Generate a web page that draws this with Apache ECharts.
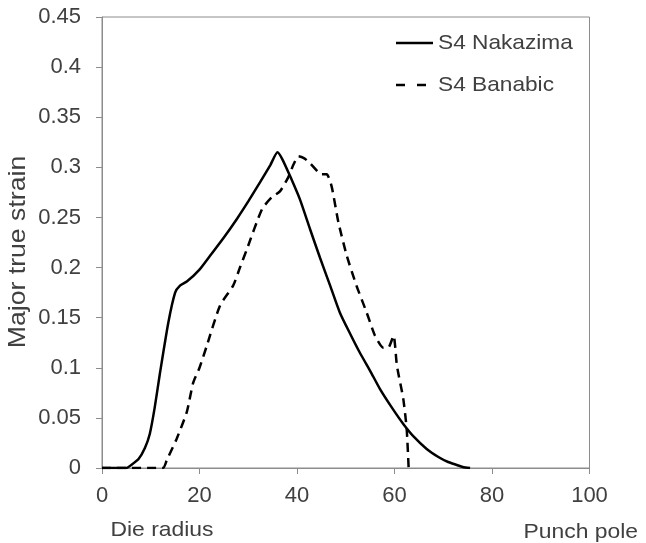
<!DOCTYPE html>
<html><head><meta charset="utf-8">
<script src="https://cdn.jsdelivr.net/npm/echarts@6/dist/echarts.min.js"></script>
<style>html,body{margin:0;padding:0;background:#fff}#c{width:646px;height:543px}</style>
</head><body><div id="c"></div>
<script>
var xTicks = [0, 20, 40, 60, 80, 100];
var nakazimaX = [0, 5, 6, 7.5, 8.8, 9.8, 10.8, 11.9, 13.6, 15, 16, 17.4, 20, 22.2, 25, 27.6, 30, 32.4, 34.5, 36, 37, 38.6, 40.6, 42.7, 44.7, 46.8, 48.8, 50.9, 52.9, 55, 57, 59.5, 61.8, 64, 66.6, 69, 71, 72.8, 74, 75.5];
var nakazimaY = [0, 0, 0.003, 0.009, 0.02, 0.034, 0.06, 0.095, 0.145, 0.175, 0.182, 0.186, 0.198, 0.212, 0.23, 0.248, 0.266, 0.285, 0.302, 0.315, 0.308, 0.291, 0.268, 0.238, 0.21, 0.182, 0.155, 0.134, 0.115, 0.097, 0.079, 0.06, 0.044, 0.031, 0.019, 0.011, 0.006, 0.003, 0.001, 0];
var banabicX = [0, 12.5, 13.3, 15.3, 17.4, 18.7, 20, 21.5, 24.2, 26.9, 28.3, 29.7, 32.8, 34.8, 36.5, 38.2, 39.3, 40.3, 41.5, 42.7, 45.1, 46.1, 47.1, 48.5, 50.2, 52.2, 54.3, 56, 57.7, 58.7, 59.8, 60.5, 61.8, 62.5, 62.9];
var banabicY = [0, 0, 0.008, 0.029, 0.056, 0.085, 0.1, 0.122, 0.162, 0.182, 0.2, 0.218, 0.258, 0.27, 0.276, 0.29, 0.303, 0.311, 0.309, 0.304, 0.293, 0.293, 0.281, 0.245, 0.212, 0.182, 0.155, 0.132, 0.12, 0.12, 0.132, 0.102, 0.069, 0.039, 0];
var seriesNames = ['S4 Nakazima', 'S4 Banabic'];
var axisNames = ['Die radius', 'Punch pole', 'Major true strain'];

function pairs(xs, ys) { return xs.map(function (x, i) { return [x, ys[i]]; }); }

var font = 'Liberation Sans, Arial, sans-serif';
var axisCol = '#8c8c8c';
var txtCol = '#404040';
var chart = echarts.init(document.getElementById('c'), null, { renderer: 'canvas' });
chart.setOption({
  animation: false,
  backgroundColor: '#fff',
  grid: { left: 102, right: 56.5, top: 17, bottom: 75, show: true, borderColor: axisCol, borderWidth: 1, backgroundColor: 'transparent' },
  xAxis: {
    type: 'value', min: xTicks[0], max: xTicks[xTicks.length - 1], interval: 20,
    axisLine: { show: true, lineStyle: { color: axisCol, width: 1 } },
    axisTick: { show: true, inside: false, length: 6, lineStyle: { color: axisCol } },
    axisLabel: { color: txtCol, fontSize: 22, fontFamily: font, margin: 17 },
    splitLine: { show: false }
  },
  yAxis: {
    type: 'value', min: 0, max: 0.45, interval: 0.05,
    axisLine: { show: true, lineStyle: { color: axisCol, width: 1 } },
    axisTick: { show: true, inside: false, length: 6, lineStyle: { color: axisCol } },
    axisLabel: { color: txtCol, fontSize: 22, fontFamily: font, margin: 21 },
    splitLine: { show: false }
  },
  legend: { show: false },
  series: [
    { name: seriesNames[0], type: 'line', data: pairs(nakazimaX, nakazimaY), showSymbol: false, symbol: 'none', smooth: 0.2,
      lineStyle: { color: '#000', width: 2.5, type: 'solid' }, itemStyle: { color: '#000' } },
    { name: seriesNames[1], type: 'line', data: pairs(banabicX, banabicY), showSymbol: false, symbol: 'none', smooth: 0.2,
      lineStyle: { color: '#000', width: 2.5, type: [9, 6] }, itemStyle: { color: '#000' } }
  ],
  graphic: [
    { type: 'line', shape: { x1: 396, y1: 43, x2: 433, y2: 43 }, style: { stroke: '#000', lineWidth: 2.5 } },
    { type: 'line', shape: { x1: 396, y1: 85, x2: 405, y2: 85 }, style: { stroke: '#000', lineWidth: 2.5 } },
    { type: 'line', shape: { x1: 417, y1: 85, x2: 426, y2: 85 }, style: { stroke: '#000', lineWidth: 2.5 } },
    { type: 'text', x: 438, y: 43, scaleX: 1.08, style: { text: seriesNames[0], fill: txtCol, font: '21px ' + font, textAlign: 'left', textVerticalAlign: 'middle' } },
    { type: 'text', x: 438, y: 85, scaleX: 1.08, style: { text: seriesNames[1], fill: txtCol, font: '21px ' + font, textAlign: 'left', textVerticalAlign: 'middle' } },
    { type: 'text', x: 110.5, y: 530, scaleX: 1.09, style: { text: axisNames[0], fill: txtCol, font: '21px ' + font, textAlign: 'left', textVerticalAlign: 'middle' } },
    { type: 'text', x: 638, y: 532, scaleX: 1.09, style: { text: axisNames[1], fill: txtCol, font: '21px ' + font, textAlign: 'right', textVerticalAlign: 'middle' } },
    { type: 'text', x: 18, y: 252, rotation: Math.PI / 2, scaleX: 1.11, style: { text: axisNames[2], fill: txtCol, font: '24px ' + font, textAlign: 'center', textVerticalAlign: 'middle' } }
  ]
});
</script></body></html>
